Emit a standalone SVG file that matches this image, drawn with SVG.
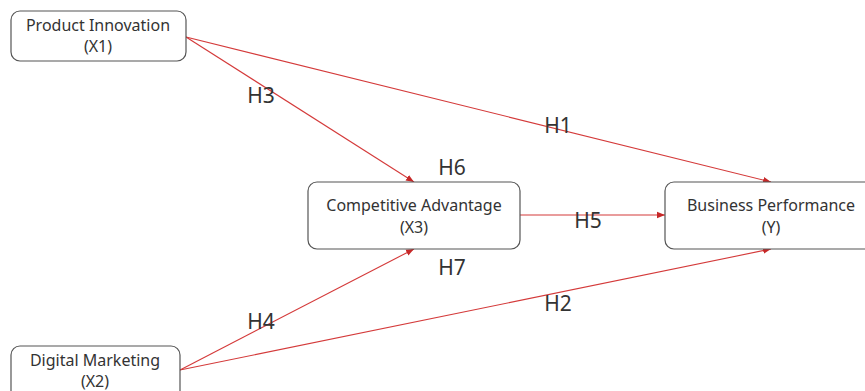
<svg xmlns="http://www.w3.org/2000/svg" width="865" height="391" viewBox="0 0 865 391">
<style>
.node rect{fill:#fff;stroke:#555;stroke-width:1.2}
.node text{font-family:"Noto Sans","Open Sans",sans-serif;font-size:16px;fill:#333;text-anchor:middle}
.edge{stroke:#d43a3a;stroke-width:1.1;fill:none;marker-end:url(#arr)}
.lbl{font-family:"Noto Sans","Open Sans",sans-serif;font-size:21px;fill:#333;text-anchor:middle}
</style>
<defs>
<marker id="arr" viewBox="0 0 10 10" refX="10" refY="5" markerWidth="8" markerHeight="8" markerUnits="userSpaceOnUse" orient="auto">
<path d="M0,1 L10,5 L0,9 z" fill="#c62828"/>
</marker>
</defs>
<rect width="865" height="391" fill="#fff"/>
<g id="connectors">
<line class="edge" x1="186" y1="37" x2="414" y2="182"/>
<line class="edge" x1="186" y1="37" x2="771" y2="182"/>
<line class="edge" x1="520" y1="215" x2="665" y2="215"/>
<line class="edge" x1="180" y1="370" x2="414" y2="249"/>
<line class="edge" x1="180" y1="370" x2="771" y2="249"/>
</g>
<g id="labels">
<text class="lbl" x="261" y="103">H3</text>
<text class="lbl" x="558" y="133">H1</text>
<text class="lbl" x="452" y="175">H6</text>
<text class="lbl" x="588" y="228">H5</text>
<text class="lbl" x="452" y="275">H7</text>
<text class="lbl" x="261" y="329">H4</text>
<text class="lbl" x="558" y="311">H2</text>
</g>
<g id="product-innovation" class="node">
<rect x="11" y="11" width="175" height="50" rx="9"/>
<text x="98" y="31">Product Innovation</text>
<text x="98" y="52">(X1)</text>
</g>
<g id="competitive-advantage" class="node">
<rect x="308" y="182" width="212" height="67" rx="9"/>
<text x="414" y="211">Competitive Advantage</text>
<text x="414" y="233">(X3)</text>
</g>
<g id="business-performance" class="node">
<rect x="665" y="182" width="215" height="67" rx="9"/>
<text x="771" y="211">Business Performance</text>
<text x="771" y="233">(Y)</text>
</g>
<g id="digital-marketing" class="node">
<rect x="11" y="346" width="169" height="60" rx="9"/>
<text x="95" y="366">Digital Marketing</text>
<text x="95" y="387">(X2)</text>
</g>
</svg>
